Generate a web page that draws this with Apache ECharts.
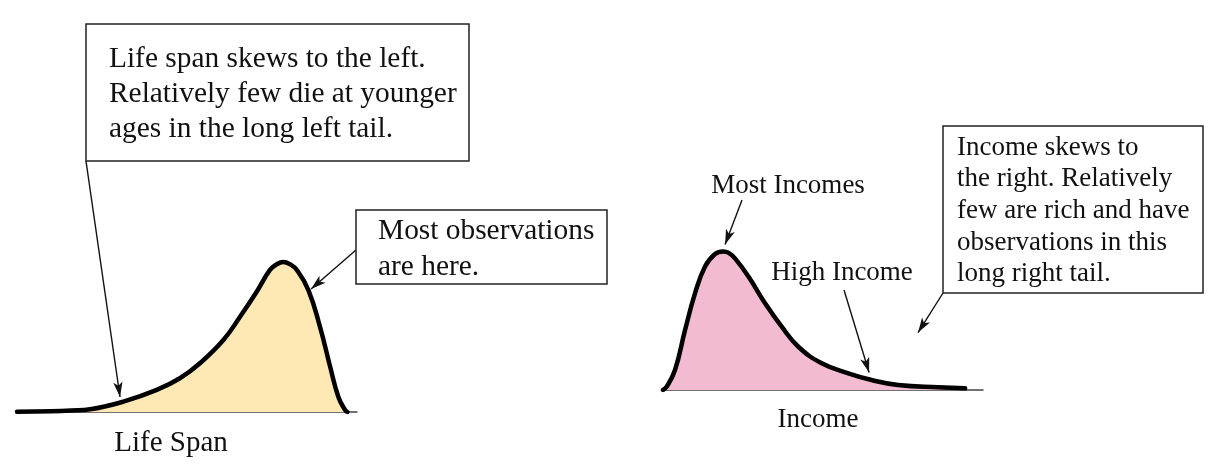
<!DOCTYPE html>
<html>
<head>
<meta charset="utf-8">
<script src="https://cdn.jsdelivr.net/npm/echarts@6/dist/echarts.min.js"></script>
<style>html,body{margin:0;padding:0;background:#fff;}#c{width:1224px;height:476px;}</style>
</head>
<body>
<div id="c"></div>
<script>
// Left-skewed: life span (age in years vs relative density)
const lifeAges    = [0, 10, 16, 21.5, 31.3, 41.1, 47.9, 53.8, 60.7, 65.6, 70.5, 74.4, 76.4, 78.3, 80.3, 82.3, 85.7, 89.1, 92.1, 94.5, 96.5, 97.2];
const lifeDensity = [0.002, 0.005, 0.01, 0.018, 0.069, 0.147, 0.225, 0.325, 0.48, 0.635, 0.802, 0.947, 0.985, 1.0, 0.985, 0.947, 0.813, 0.569, 0.302, 0.102, 0.013, 0];
// Right-skewed: income (relative units vs relative density)
const incomeValues  = [0, 1.16, 3.75, 6.9, 10.0, 13.1, 16.25, 18.8, 20.4, 22.5, 26.7, 31.9, 37.1, 42.3, 49.6, 57.9, 65.2, 73.5, 86, 94.4];
const incomeDensity = [0, 0.024, 0.143, 0.429, 0.69, 0.88, 0.971, 0.99, 0.981, 0.94, 0.81, 0.619, 0.452, 0.309, 0.191, 0.119, 0.071, 0.036, 0.019, 0.012];

const axisNames = ['Life Span', 'Income'];
const boxTexts = {
  life: ['Life span skews to the left.', 'Relatively few die at younger', 'ages in the long left tail.'],
  most: ['Most observations', 'are here.'],
  income: ['Income skews to', 'the right. Relatively', 'few are rich and have', 'observations in this', 'long right tail.']
};
const labelTexts = ['Most Incomes', 'High Income'];
// arrow targets in data space
const lifeArrowTarget = [30.3, 0.1];
const mostArrowTarget = [86.5, 0.82];
const mostIncArrowTarget = [19.4, 1.04];
const highIncArrowTarget = [64.4, 0.125];
const tailArrowTarget = [79.7, 0.41];

const FONT = '"Liberation Serif", "Times New Roman", serif';
const zip = (a, b) => a.map((v, i) => [v, b[i]]);

const arrowStyle = { color: '#111', width: 1.4, type: 'solid' };
function arrow(fromPx, toCoord) {
  return [
    { x: fromPx[0], y: fromPx[1], symbol: 'none' },
    { coord: toCoord, symbol: 'arrow', symbolSize: [7, 15] }
  ];
}

const chart = echarts.init(document.getElementById('c'), null, { renderer: 'canvas' });

function box(left, top, w, h, lines, fs, lh, tx, ty) {
  return [
    { type: 'rect', shape: { x: left, y: top, width: w, height: h },
      style: { fill: '#fff', stroke: '#222', lineWidth: 1.5 }, z: 10 },
    { type: 'text', x: tx, y: ty, z: 11,
      style: { text: lines.join('\n'), font: fs + 'px ' + FONT, fill: '#111', lineHeight: lh, textVerticalAlign: 'top' } }
  ];
}

const option = {
  backgroundColor: '#fff',
  animation: false,
  grid: [
    { left: 17, top: 247, width: 340, height: 165 },
    { left: 663, top: 236, width: 320, height: 154 }
  ],
  xAxis: [
    { gridIndex: 0, type: 'value', min: 0, max: 100,
      name: axisNames[0], nameLocation: 'middle', nameGap: 17,
      nameTextStyle: { fontFamily: FONT, fontSize: 29, color: '#111', padding: [0, 32, 0, 0] },
      axisLine: { show: true, lineStyle: { color: '#444', width: 1.5 } },
      axisTick: { show: false }, axisLabel: { show: false }, splitLine: { show: false } },
    { gridIndex: 1, type: 'value', min: 0, max: 100,
      name: axisNames[1], nameLocation: 'middle', nameGap: 16,
      nameTextStyle: { fontFamily: FONT, fontSize: 27, color: '#111', padding: [0, 10, 0, 0] },
      axisLine: { show: true, lineStyle: { color: '#444', width: 1.5 } },
      axisTick: { show: false }, axisLabel: { show: false }, splitLine: { show: false } }
  ],
  yAxis: [
    { gridIndex: 0, type: 'value', min: 0, max: 1.1, show: false },
    { gridIndex: 1, type: 'value', min: 0, max: 1.1, show: false }
  ],
  series: [
    { type: 'line', xAxisIndex: 0, yAxisIndex: 0, data: zip(lifeAges, lifeDensity),
      smooth: 0.45, symbol: 'none',
      lineStyle: { color: '#000', width: 4.5, join: 'round', cap: 'round' },
      areaStyle: { color: '#FEE8B4', opacity: 1 },
      markLine: { silent: true, label: { show: false }, lineStyle: arrowStyle, animation: false,
        data: [ arrow([86, 161], lifeArrowTarget), arrow([356, 250], mostArrowTarget) ] } },
    { type: 'line', xAxisIndex: 1, yAxisIndex: 1, data: zip(incomeValues, incomeDensity),
      smooth: 0.45, symbol: 'none',
      lineStyle: { color: '#000', width: 4.5, join: 'round', cap: 'round' },
      areaStyle: { color: '#F3BBD2', opacity: 1 },
      markLine: { silent: true, label: { show: false }, lineStyle: arrowStyle, animation: false,
        data: [ arrow([742, 200], mostIncArrowTarget), arrow([844, 290], highIncArrowTarget), arrow([943, 293], tailArrowTarget) ] } }
  ],
  graphic: [
    ...box(86, 24, 383, 137, boxTexts.life, 29.4, 35, 109, 42),
    ...box(356, 210, 251, 74, boxTexts.most, 29.4, 36, 378, 213),
    ...box(943, 126, 260, 167, boxTexts.income, 27, 31.6, 957, 132),
    { type: 'text', x: 788, y: 186, z: 11,
      style: { text: labelTexts[0], font: '27px ' + FONT, fill: '#111', textAlign: 'center', textVerticalAlign: 'middle' } },
    { type: 'text', x: 842, y: 273, z: 11,
      style: { text: labelTexts[1], font: '27px ' + FONT, fill: '#111', textAlign: 'center', textVerticalAlign: 'middle' } }
  ]
};
chart.setOption(option);
</script>
</body>
</html>
